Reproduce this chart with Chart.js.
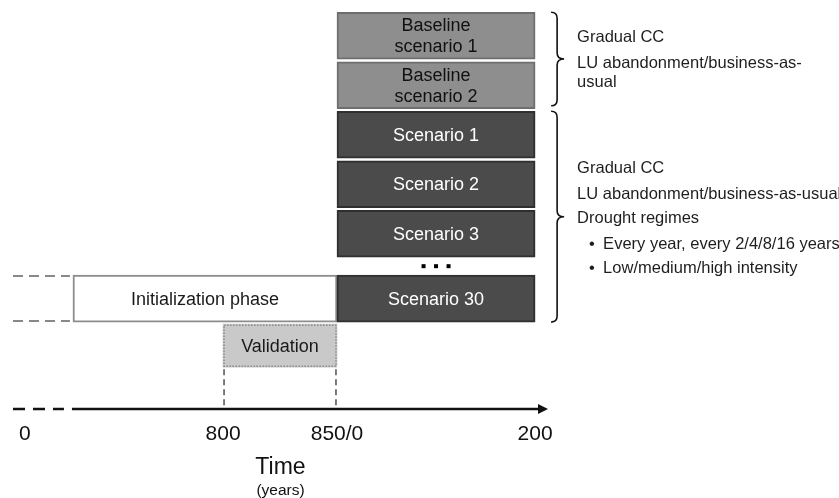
<!DOCTYPE html>
<html lang="en">
<head>
    <meta charset="UTF-8">
    <title>Simulation design</title>
    <script src="https://cdn.jsdelivr.net/npm/chart.js"></script>
    <style>
        body { margin: 0; background: #fff; }
        #wrap { width: 839px; height: 498px; position: relative; }
    </style>
</head>
<body>
    <div id="wrap"><canvas id="designChart"></canvas></div>

    <script>
        // phases of the simulation design (x in schematic time units, y = row)
        var phaseLabels = ['Initialization phase', 'Baseline\nscenario 1', 'Baseline\nscenario 2', 'Scenario 1', 'Scenario 2', 'Scenario 3', 'Scenario 30', 'Validation'];
        var phaseKind = ['init', 'baseline', 'baseline', 'scenario', 'scenario', 'scenario', 'scenario', 'validation'];
        var phaseStart = [4.85, 31.5, 31.5, 31.5, 31.5, 31.5, 31.5, 20];
        var phaseEnd = [31.5, 51.5, 51.5, 51.5, 51.5, 51.5, 51.5, 31.5];
        var phaseRow = [5.31, 0, 1, 2, 3, 4, 5.31, 6.26];

        // time axis
        var tickPos = [0, 20, 31.5, 51.5];
        var tickLabels = ['0', '800', '850/0', '200'];

        // right-hand notes, one block per brace
        var noteGroups = [
            { first: 1, last: 2, lines: ['Gradual CC', 'LU abandonment/business-as-', 'usual'] },
            { first: 3, last: 6, lines: ['Gradual CC', 'LU abandonment/business-as-usual', 'Drought regimes', '• Every year, every 2/4/8/16 years', '• Low/medium/high intensity'] }
        ];

        var FONT = '"Liberation Sans", Arial, Helvetica, sans-serif';
        var kindStyle = {
            init: { fill: '#ffffff', border: '#8c8c8c', text: '#1a1a1a' },
            baseline: { fill: '#8e8e8e', border: '#6e6e6e', text: '#111111' },
            scenario: { fill: '#4b4b4b', border: '#2f2f2f', text: '#ffffff' },
            validation: { fill: '#c9c9c9', border: '#8a8a8a', text: '#1a1a1a' }
        };

        function buildSet(filter, thickness) {
            var idx = [];
            phaseKind.forEach(function (k, i) { if (filter(k)) idx.push(i); });
            return {
                data: idx.map(function (i) { return { x: [phaseStart[i], phaseEnd[i]], y: phaseRow[i] }; }),
                backgroundColor: idx.map(function (i) { return kindStyle[phaseKind[i]].fill; }),
                borderColor: idx.map(function (i) { return kindStyle[phaseKind[i]].border; }),
                borderWidth: phaseKind[idx[0]] === 'validation' ? 0 : 2,
                borderSkipped: false,
                barThickness: thickness,
                grouped: false,
                phaseIdx: idx
            };
        }

        function drawBrace(ctx, x, y1, y2, w) {
            var ym = (y1 + y2) / 2;
            ctx.beginPath();
            ctx.moveTo(x - w, y1);
            ctx.quadraticCurveTo(x, y1, x, y1 + w);
            ctx.lineTo(x, ym - w);
            ctx.quadraticCurveTo(x, ym, x + w + 1, ym);
            ctx.quadraticCurveTo(x, ym, x, ym + w);
            ctx.lineTo(x, y2 - w);
            ctx.quadraticCurveTo(x, y2, x - w, y2);
            ctx.stroke();
        }

        var decoPlugin = {
            id: 'deco',
            afterDatasetsDraw: function (chart) {
                var ctx = chart.ctx;
                var xs = chart.scales.x;
                var area = chart.chartArea;
                var els = {};
                chart.data.datasets.forEach(function (ds, d) {
                    chart.getDatasetMeta(d).data.forEach(function (el, j) { els[ds.phaseIdx[j]] = el; });
                });
                ctx.save();

                // validation dotted outline
                var v = els[7];
                ctx.strokeStyle = kindStyle.validation.border;
                ctx.lineWidth = 1.5;
                ctx.setLineDash([1.5, 1.5]);
                ctx.strokeRect(v.base + 1, v.y - v.height / 2 + 1, v.x - v.base - 2, v.height - 2);

                // dashed drop lines from validation to the axis
                ctx.strokeStyle = '#444';
                ctx.lineWidth = 1.4;
                ctx.setLineDash([6, 4]);
                [v.base + 1, v.x - 1].forEach(function (px) {
                    ctx.beginPath();
                    ctx.moveTo(px, v.y + v.height / 2 + 2);
                    ctx.lineTo(px, area.bottom - 2);
                    ctx.stroke();
                });

                // dashed extensions left of the initialization phase
                var ini = els[0];
                ctx.strokeStyle = '#888';
                ctx.lineWidth = 2;
                ctx.setLineDash([10, 6]);
                [ini.y - ini.height / 2 + 1, ini.y + ini.height / 2 - 1].forEach(function (py) {
                    ctx.beginPath();
                    ctx.moveTo(area.left, py);
                    ctx.lineTo(ini.base - 3, py);
                    ctx.stroke();
                });

                // time axis: dashed start, solid line, arrow
                var ay = area.bottom;
                ctx.strokeStyle = '#111';
                ctx.lineWidth = 2.5;
                ctx.setLineDash([12, 8]);
                ctx.beginPath();
                ctx.moveTo(area.left, ay);
                ctx.lineTo(ini.base - 9, ay);
                ctx.stroke();
                ctx.setLineDash([]);
                ctx.beginPath();
                ctx.moveTo(ini.base - 1, ay);
                ctx.lineTo(area.right - 8, ay);
                ctx.stroke();
                ctx.fillStyle = '#111';
                ctx.beginPath();
                ctx.moveTo(area.right, ay);
                ctx.lineTo(area.right - 10, ay - 5);
                ctx.lineTo(area.right - 10, ay + 5);
                ctx.closePath();
                ctx.fill();

                // bar labels
                ctx.textAlign = 'center';
                ctx.textBaseline = 'middle';
                ctx.font = '18px ' + FONT;
                Object.keys(els).forEach(function (i) {
                    var el = els[i];
                    var lines = phaseLabels[i].split('\n');
                    var cx = (el.x + el.base) / 2;
                    ctx.fillStyle = kindStyle[phaseKind[i]].text;
                    lines.forEach(function (t, k) {
                        ctx.fillText(t, cx, el.y + (k - (lines.length - 1) / 2) * 21 + 1);
                    });
                });

                // ellipsis between scenario 3 and scenario 30
                var s3 = els[5], s30 = els[6];
                var my = ((s3.y + s3.height / 2) + (s30.y - s30.height / 2)) / 2;
                var mx = (s3.x + s3.base) / 2;
                ctx.fillStyle = '#000';
                [-12.5, 0, 12.5].forEach(function (dx) { ctx.fillRect(mx + dx - 2, my - 2, 4, 4); });

                // braces and notes
                var bx = xs.getPixelForValue(phaseEnd[1]) + 22;
                ctx.strokeStyle = '#111';
                ctx.lineWidth = 1.6;
                ctx.font = '16.5px ' + FONT;
                ctx.textAlign = 'left';
                ctx.fillStyle = '#1e1e1e';
                noteGroups.forEach(function (g, gi) {
                    var a = els[g.first], b = els[g.last];
                    var top = a.y - a.height / 2;
                    var bot = b.y + b.height / 2 - (gi === 0 ? 3 : 0);
                    drawBrace(ctx, bx, top, bot, 6);
                    var offs = gi === 0 ? [25, 51, 70] : [57, 83, 107, 133, 157];
                    g.lines.forEach(function (t, k) {
                        var py = top + offs[k];
                        if (t.charAt(0) === '•') {
                            ctx.fillText('•', bx + 32, py);
                            ctx.fillText(t.slice(2), bx + 46, py);
                        } else {
                            ctx.fillText(t, bx + 20, py);
                        }
                    });
                });

                // axis title
                ctx.textAlign = 'center';
                ctx.fillStyle = '#111';
                var tx = (area.left + area.right) / 2;
                ctx.font = '23px ' + FONT;
                ctx.fillText('Time', tx, 468);
                ctx.font = '15.5px ' + FONT;
                ctx.fillText('(years)', tx, 491);
                ctx.restore();
            }
        };

        var ctx = document.getElementById('designChart').getContext('2d');
        var designChart = new Chart(ctx, {
            type: 'bar',
            data: {
                datasets: [
                    buildSet(function (k) { return k !== 'validation'; }, 47),
                    buildSet(function (k) { return k === 'validation'; }, 43)
                ]
            },
            options: {
                indexAxis: 'y',
                responsive: true,
                maintainAspectRatio: false,
                animation: false,
                layout: { padding: { left: 13, right: 291, top: 11, bottom: 0 } },
                plugins: { legend: { display: false }, tooltip: { enabled: false } },
                scales: {
                    y: {
                        type: 'linear',
                        reverse: true,
                        offset: false,
                        min: -0.5,
                        max: 7.54,
                        display: false
                    },
                    x: {
                        type: 'linear',
                        min: -1.2,
                        max: 52.8,
                        grid: { display: false, drawTicks: false },
                        border: { display: false },
                        afterBuildTicks: function (scale) {
                            scale.ticks = tickPos.map(function (p) { return { value: p }; });
                        },
                        afterFit: function (scale) { scale.height = 89; },
                        ticks: {
                            autoSkip: false,
                            maxRotation: 0,
                            padding: 13,
                            color: '#111',
                            font: { size: 21, family: FONT },
                            callback: function (val, i) { return tickLabels[i]; }
                        }
                    }
                }
            },
            plugins: [decoPlugin]
        });
    </script>
</body>
</html>
